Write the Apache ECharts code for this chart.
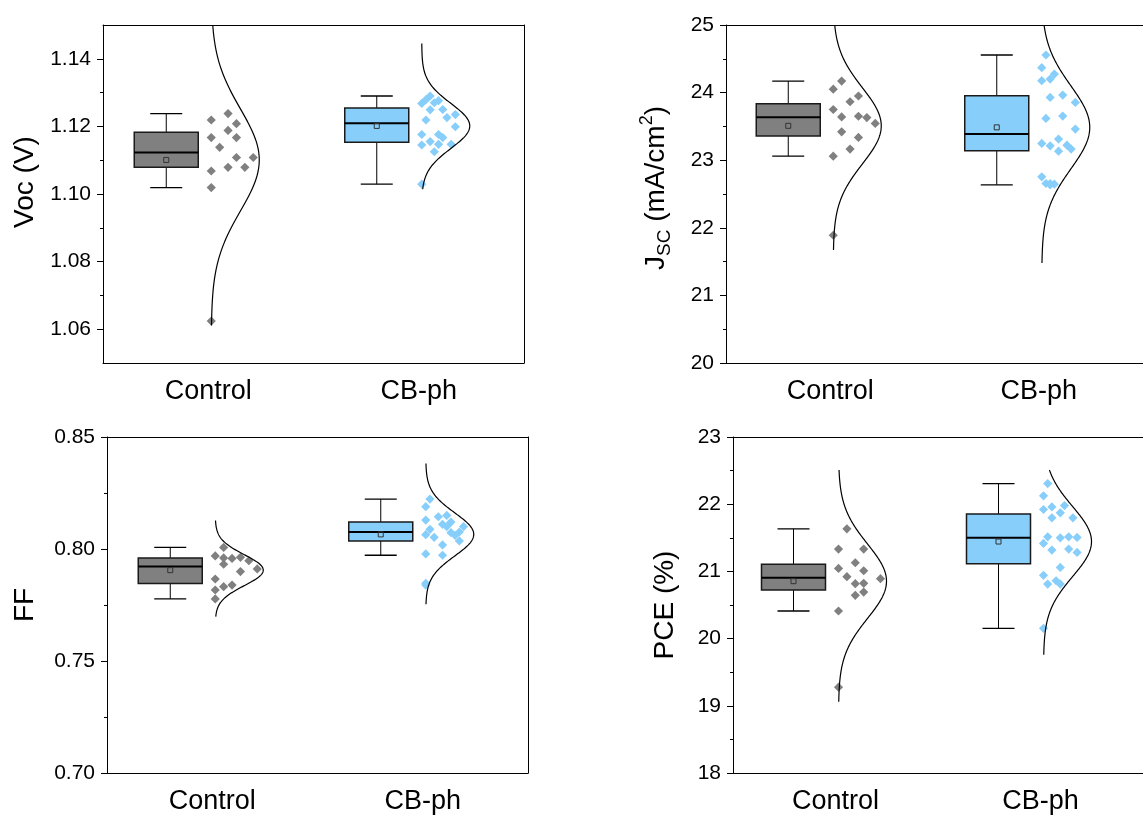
<!DOCTYPE html>
<html><head><meta charset="utf-8">
<script src="https://cdn.jsdelivr.net/npm/echarts@6/dist/echarts.min.js"></script>
<style>html,body{margin:0;padding:0;background:#fff}#c{width:1143px;height:818px}</style>
</head><body><div id="c"></div>
<script>
// ---------------- data ----------------
const categories = ['Control', 'CB-ph'];

const vocControl = [1.1238, 1.1219, 1.1208, 1.1188, 1.1167, 1.1167, 1.1138, 1.1108, 1.1108, 1.1068, 1.1079, 1.1079, 1.1019, 1.0624];
const vocCBph = [1.1290, 1.1279, 1.1276, 1.1270, 1.1268, 1.1250, 1.1249, 1.1235, 1.1226, 1.1219, 1.1199, 1.1176, 1.1176, 1.1167, 1.1155, 1.1147, 1.1147, 1.1145, 1.1125, 1.1029];
const jscControl = [24.17, 24.05, 23.95, 23.865, 23.75, 23.65, 23.64, 23.63, 23.544, 23.42, 23.337, 23.164, 23.06, 21.89];
const jscCBph = [24.556, 24.368, 24.274, 24.2, 24.176, 23.963, 23.929, 23.855, 23.653, 23.618, 23.46, 23.312, 23.248, 23.223, 23.213, 23.164, 23.134, 22.754, 22.655, 22.655, 22.645, 22.636];
const ffControl = [0.8007, 0.7969, 0.7963, 0.7960, 0.7958, 0.7948, 0.7932, 0.7911, 0.7899, 0.7866, 0.7839, 0.7832, 0.7817, 0.7777];
const ffCBph = [0.8223, 0.8189, 0.8150, 0.8144, 0.8129, 0.8120, 0.8110, 0.8100, 0.8100, 0.8088, 0.8076, 0.8073, 0.8064, 0.8061, 0.8052, 0.8036, 0.8018, 0.7978, 0.7972, 0.7847, 0.7839];
const pceControl = [21.634, 21.332, 21.332, 21.129, 21.045, 21.01, 20.921, 20.891, 20.822, 20.817, 20.693, 20.644, 20.411, 19.277];
const pceCBph = [22.307, 22.124, 21.98, 21.96, 21.921, 21.871, 21.797, 21.797, 21.515, 21.515, 21.505, 21.5, 21.416, 21.332, 21.317, 21.282, 21.059, 20.941, 20.861, 20.812, 20.812, 20.153];

// value range over which each normal curve is drawn [Control, CB-ph]
const vocCurveRange = [[1.0611, 1.16], [1.1014, 1.1445]];
const jscCurveRange = [[21.67, 25.2], [21.48, 25.2]];
const ffCurveRange = [[0.7698, 0.8127], [0.7753, 0.8382]];
const pceCurveRange = [[19.06, 22.51], [19.76, 22.51]];

// axis ticks
const vocTicks = [1.06, 1.08, 1.10, 1.12, 1.14];
const vocMinor = [1.07, 1.09, 1.11, 1.13];
const jscTicks = [20, 21, 22, 23, 24, 25];
const jscMinor = [20.5, 21.5, 22.5, 23.5, 24.5];
const ffTicks = [0.70, 0.75, 0.80, 0.85];
const ffMinor = [0.725, 0.775, 0.825];
const pceTicks = [18, 19, 20, 21, 22, 23];
const pceMinor = [18.5, 19.5, 20.5, 21.5, 22.5];

// ---------------- layout / style ----------------
const FONT = '"Liberation Sans", Arial, sans-serif';
const colors = ['#808080', '#87CEFA'];
const GRIDS = [
  {left: 103, top: 25, width: 421, height: 338},
  {left: 726, top: 25, width: 421, height: 338},
  {left: 107, top: 437, width: 421, height: 336},
  {left: 733, top: 437, width: 421, height: 336}
];
const panels = [
  {groups: [vocControl, vocCBph], curves: vocCurveRange, min: 1.05, max: 1.15, ticks: vocTicks, minor: vocMinor, dec: 2, name: 'Voc (V)', gap: 64, shift: 24, rightFrame: true},
  {groups: [jscControl, jscCBph], curves: jscCurveRange, min: 20, max: 25, ticks: jscTicks, minor: jscMinor, dec: 0, name: '{n|J}{s|SC}{n| (mA/cm}{p|2}{n|)}', gap: 52, shift: 12, rightFrame: false},
  {groups: [ffControl, ffCBph], curves: ffCurveRange, min: 0.70, max: 0.85, ticks: ffTicks, minor: ffMinor, dec: 2, name: 'FF', gap: 68, shift: 0, rightFrame: true},
  {groups: [pceControl, pceCBph], curves: pceCurveRange, min: 18, max: 23, ticks: pceTicks, minor: pceMinor, dec: 0, name: 'PCE (%)', gap: 54, shift: 0, rightFrame: false}
];
const BOX_OFFSET = -42, BOX_HALF = 32, CAP_HALF = 16, BASE_OFFSET = 3, AMP = 48;

function quantile(s, p) {
  const h = (s.length - 1) * p, lo = Math.floor(h);
  const hi = Math.min(lo + 1, s.length - 1);
  return s[lo] + (h - lo) * (s[hi] - s[lo]);
}
function stats(arr) {
  const s = [...arr].sort((a, b) => a - b);
  const q1 = quantile(s, 0.25), med = quantile(s, 0.5), q3 = quantile(s, 0.75);
  const iqr = q3 - q1;
  const wlo = s.find(v => v >= q1 - 1.5 * iqr);
  const whi = [...s].reverse().find(v => v <= q3 + 1.5 * iqr);
  const mean = s.reduce((a, b) => a + b, 0) / s.length;
  const sd = Math.sqrt(s.reduce((a, b) => a + (b - mean) * (b - mean), 0) / (s.length - 1));
  return {q1, med, q3, wlo, whi, mean, sd};
}

function renderBox(params, api) {
  const i = api.value(0);
  const y = v => api.coord([i, v])[1];
  const cx = api.coord([i, api.value(2)])[0] + BOX_OFFSET;
  const yq1 = y(api.value(1)), ymed = y(api.value(2)), yq3 = y(api.value(3));
  const ylo = y(api.value(4)), yhi = y(api.value(5)), ymean = y(api.value(6));
  const line = (x1, y1, x2, y2, w) => ({type: 'line', shape: {x1, y1, x2, y2}, style: {stroke: '#000', lineWidth: w || 1}});
  return {type: 'group', children: [
    line(cx, yhi, cx, yq3), line(cx, yq1, cx, ylo),
    line(cx - CAP_HALF, yhi, cx + CAP_HALF, yhi, 1.3), line(cx - CAP_HALF, ylo, cx + CAP_HALF, ylo, 1.3),
    {type: 'rect', shape: {x: cx - BOX_HALF, y: yq3, width: 2 * BOX_HALF, height: yq1 - yq3}, style: {fill: colors[i], stroke: '#1a1a1a', lineWidth: 1.5}},
    line(cx - BOX_HALF, ymed, cx + BOX_HALF, ymed, 2),
    {type: 'rect', shape: {x: cx - 2.5, y: ymean - 2.5, width: 5, height: 5}, style: {fill: 'none', stroke: '#333', lineWidth: 1}}
  ]};
}

function renderCurve(params, api) {
  const i = api.value(0), mean = api.value(1), sd = api.value(2), lo = api.value(3), hi = api.value(4);
  const base = api.coord([i, mean])[0] + BASE_OFFSET;
  const pts = [];
  const N = 200;
  for (let k = 0; k <= N; k++) {
    const v = lo + (hi - lo) * k / N;
    const z = (v - mean) / sd;
    pts.push([base + AMP * Math.exp(-0.5 * z * z), api.coord([i, v])[1]]);
  }
  return {type: 'polyline', shape: {points: pts}, style: {stroke: '#000', fill: null, lineWidth: 1.2}};
}

function makeRenderPoints(groups) {
  return function (params, api) {
    const i = api.value(0), mean = api.value(1), sd = api.value(2);
    const vals = groups[i];
    const base = api.coord([i, mean])[0] + BASE_OFFSET;
    const NC = vals.length > 16 ? 11 : 6;
    const STEP = 42 / (NC - 1), MIND = 8.5, r = 4.6;
    const cols = Array.from({length: NC}, () => []);
    const children = [];
    vals.forEach((v, k) => {
      const y = api.coord([i, v])[1];
      const z = (v - mean) / sd;
      const w = AMP * Math.exp(-0.5 * z * z) - 5;
      const maxC = Math.max(0, Math.min(NC - 1, Math.floor(w / STEP)));
      const pref = Math.floor((((k + 1) * 0.6180339887) % 1) * (maxC + 1));
      let c = pref;
      for (let t = 0; t <= maxC; t++) {
        const cc = (pref + t) % (maxC + 1);
        if (cols[cc].every(yy => Math.abs(yy - y) >= MIND)) { c = cc; break; }
      }
      cols[c].push(y);
      const x = base + c * STEP;
      children.push({type: 'polygon', shape: {points: [[x, y - r], [x + r, y], [x, y + r], [x - r, y]]}, style: {fill: colors[i]}});
    });
    return {type: 'group', children};
  };
}

const richName = {
  n: {fontSize: 28, lineHeight: 36, fontFamily: FONT, color: '#000'},
  s: {fontSize: 19, lineHeight: 19, verticalAlign: 'bottom', fontFamily: FONT, color: '#000'},
  p: {fontSize: 18, lineHeight: 18, verticalAlign: 'top', fontFamily: FONT, color: '#000'}
};

const option = {animation: false, backgroundColor: '#fff', grid: [], xAxis: [], yAxis: [], series: []};
const frameLine = {show: true, lineStyle: {color: '#000', width: 1}};
panels.forEach((p, k) => {
  option.grid.push(Object.assign({show: false, containLabel: false}, GRIDS[k]));
  option.xAxis.push({
    type: 'category', gridIndex: k, data: categories, boundaryGap: true, position: 'bottom',
    axisLine: frameLine,
    axisTick: {alignWithLabel: true, length: 6, lineStyle: {color: '#000'}},
    axisLabel: {color: '#000', fontSize: 27, fontFamily: FONT, margin: 15},
    splitLine: {show: false}
  });
  // top frame line
  option.xAxis.push({
    type: 'category', gridIndex: k, data: categories, boundaryGap: true, position: 'top',
    axisLine: frameLine, axisTick: {show: false}, axisLabel: {show: false}, splitLine: {show: false}
  });
  const yBase = option.yAxis.length;
  option.yAxis.push({
    type: 'value', gridIndex: k, min: p.min, max: p.max, position: 'left',
    name: p.name, nameLocation: 'middle', nameGap: p.gap,
    nameTextStyle: {color: '#000', fontSize: 28, fontFamily: FONT, padding: [0, 0, 0, p.shift], rich: richName},
    axisLine: frameLine,
    axisTick: {show: true, length: 6, customValues: p.ticks, lineStyle: {color: '#000'}},
    axisLabel: {customValues: p.ticks, formatter: v => Number(v).toFixed(p.dec), color: '#000', fontSize: 21, fontFamily: FONT, margin: 12},
    splitLine: {show: false}
  });
  option.yAxis.push({
    type: 'value', gridIndex: k, min: p.min, max: p.max, position: 'left',
    axisLine: {show: false},
    axisTick: {show: true, length: 3, customValues: p.minor, lineStyle: {color: '#000'}},
    axisLabel: {show: false}, splitLine: {show: false}
  });
  if (p.rightFrame) {
    option.yAxis.push({
      type: 'value', gridIndex: k, min: p.min, max: p.max, position: 'right',
      axisLine: frameLine, axisTick: {show: false}, axisLabel: {show: false}, splitLine: {show: false}
    });
  }
  const xi = 2 * k;
  const st = p.groups.map(g => stats(g));
  option.series.push({
    type: 'custom', xAxisIndex: xi, yAxisIndex: yBase, clip: true, z: 2,
    renderItem: renderBox,
    data: st.map((s, i) => [i, s.q1, s.med, s.q3, s.wlo, s.whi, s.mean])
  });
  option.series.push({
    type: 'custom', xAxisIndex: xi, yAxisIndex: yBase, clip: true, z: 3,
    renderItem: makeRenderPoints(p.groups),
    data: st.map((s, i) => [i, s.mean, s.sd])
  });
  option.series.push({
    type: 'custom', xAxisIndex: xi, yAxisIndex: yBase, clip: true, z: 4,
    renderItem: renderCurve,
    data: st.map((s, i) => [i, s.mean, s.sd, Math.max(p.curves[i][0], p.min), Math.min(p.curves[i][1], p.max)])
  });
});

const chart = echarts.init(document.getElementById('c'), null, {renderer: 'canvas'});
chart.setOption(option);
</script>
</body></html>
